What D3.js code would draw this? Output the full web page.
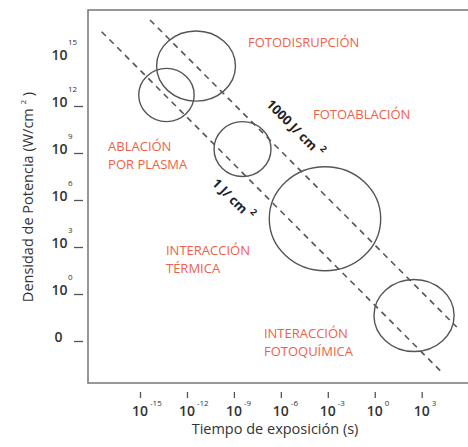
<!DOCTYPE html>
<html>
<head>
<meta charset="utf-8">
<script src="https://cdn.jsdelivr.net/npm/d3@7"></script>
<style>
  body { margin: 0; background: white; }
  svg { display: block; font-family: "Open Sans", sans-serif; }
</style>
</head>
<body>
<svg id="chart"></svg>
<script>
var W = 468, H = 447;

// axis ticks (exponents of ten)
var xTickExps = [-15, -12, -9, -6, -3, 0, 3];
var xTickSups = ["-15", "-12", "-9", "-6", "-3", "0", "3"];
var yTickExps = [15, 12, 9, 6, 3, 0, -3];
var yTickBase = ["10", "10", "10", "10", "10", "10", "0"];
var yTickSups = ["15", "12", "9", "6", "3", "0", ""];
var yTickMarks = [12, 9, 6, 3, 0, -3]; // 10^15 has no dash

// interaction regions: centre (log t, log P) and half-widths in decades
var regionCx = [-11.42, -13.31, -8.45, -3.18, 2.51];
var regionCy = [14.55, 12.7, 9.25, 4.8, -1.37];
var regionRx = [2.52, 1.77, 1.82, 3.56, 2.56];
var regionRy = [2.24, 1.7, 1.75, 3.32, 2.3];

// constant fluence lines: log P = logE - log t
var lineLabels = ["1 J/ cm", "1000 J/ cm"];
var lineLogE = [-0.71, 3.13];
var lineStart = [-17.45, -14.36];
var lineEnd = [4.28, 5.24];
var lineLabelAt = [-7.9, -6.27];

// region names, anchored in (log t, log P)
var labelLines = [["FOTODISRUPCIÓN"], ["FOTOABLACIÓN"], ["ABLACIÓN", "POR PLASMA"],
                  ["INTERACCIÓN", "TÉRMICA"], ["INTERACCIÓN", "FOTOQUÍMICA"]];
var labelX = [-8.10, -3.95, -17.04, -13.34, -7.08];
var labelY = [15.78, 11.17, 9.14, 2.49, -2.83];

var red = "#ef5f4a";
var ink = "#555";

var svg = d3.select("#chart").attr("width", W).attr("height", H);

var x = d3.scaleLinear().domain([-15, 3]).range([140, 421.7]);
var y = d3.scaleLinear().domain([-3, 15]).range([341, 59]);

// frame (open on the right, runs off the page)
svg.append("rect")
  .attr("x", 88).attr("y", 10)
  .attr("width", 400).attr("height", 373)
  .attr("fill", "none")
  .attr("stroke", "#7d7d7d")
  .attr("stroke-width", 1.6);

// y ticks
svg.append("g")
  .attr("transform", "translate(83,0)")
  .call(d3.axisLeft(y).tickValues(yTickMarks).tickSize(9).tickFormat(""))
  .call(function(g) {
    g.select(".domain").remove();
    g.selectAll("line").attr("stroke", "#555").attr("stroke-width", 1.3);
  });

var yLab = svg.append("g").attr("font-weight", 600).attr("fill", "#333");
yTickExps.forEach(function(e, i) {
  yLab.append("text")
    .attr("x", yTickBase[i] === "0" ? 58.5 : 59.5)
    .attr("y", y(e) + 1)
    .attr("text-anchor", "middle")
    .attr("font-size", 14)
    .text(yTickBase[i]);
  if (yTickSups[i]) {
    yLab.append("text")
      .attr("x", 68)
      .attr("y", y(e) - 14)
      .attr("font-size", 8)
      .attr("font-weight", 400)
      .text(yTickSups[i]);
  }
});

// x ticks
svg.append("g")
  .attr("transform", "translate(0,392)")
  .call(d3.axisBottom(x).tickValues(xTickExps).tickSize(6).tickFormat(""))
  .call(function(g) {
    g.select(".domain").remove();
    g.selectAll("line").attr("stroke", "#555").attr("stroke-width", 1.3);
  });

var xLab = svg.append("g").attr("fill", "#333");
xTickExps.forEach(function(e, i) {
  xLab.append("text")
    .attr("x", x(e))
    .attr("y", 416)
    .attr("text-anchor", "middle")
    .attr("font-size", 14)
    .attr("font-weight", 600)
    .text("10");
  xLab.append("text")
    .attr("x", x(e) + 10)
    .attr("y", 406)
    .attr("font-size", 8)
    .text(xTickSups[i]);
});

// axis titles
svg.append("text")
  .attr("x", 275).attr("y", 434)
  .attr("text-anchor", "middle")
  .attr("font-size", 14.5)
  .attr("fill", "#333")
  .text("Tiempo de exposición (s)");

var yt = svg.append("text")
  .attr("transform", "translate(33,197) rotate(-90)")
  .attr("text-anchor", "middle")
  .attr("font-size", 14.5)
  .attr("fill", "#333");
yt.append("tspan").text("Densidad de Potencia (W/cm ");
yt.append("tspan").attr("dy", -7).attr("font-size", 8).text("2");
yt.append("tspan").attr("dy", 7).text(" )");

// dashed fluence lines
lineLogE.forEach(function(E, i) {
  svg.append("line")
    .attr("x1", x(lineStart[i])).attr("y1", y(E - lineStart[i]))
    .attr("x2", x(lineEnd[i])).attr("y2", y(E - lineEnd[i]))
    .attr("stroke", ink)
    .attr("stroke-width", 1.6)
    .attr("stroke-dasharray", "6,5");

  var a = lineLabelAt[i];
  var t = svg.append("text")
    .attr("transform", "translate(" + x(a) + "," + y(E - a) + ") rotate(45)")
    .attr("y", i === 0 ? 30 : -21.5)
    .attr("text-anchor", "middle")
    .attr("font-size", 13)
    .attr("font-weight", 700)
    .attr("fill", "#222");
  t.append("tspan").text(lineLabels[i]);
  t.append("tspan").attr("dx", 4).attr("dy", -7).attr("font-size", 9).text("2");
});

// regions
svg.append("g").selectAll("ellipse")
  .data(regionCx)
.enter().append("ellipse")
  .attr("cx", function(d) { return x(d); })
  .attr("cy", function(d, i) { return y(regionCy[i]); })
  .attr("rx", function(d, i) { return x(d + regionRx[i]) - x(d); })
  .attr("ry", function(d, i) { return y(regionCy[i] - regionRy[i]) - y(regionCy[i]); })
  .attr("fill", "none")
  .attr("stroke", ink)
  .attr("stroke-width", 1.4);

// region names
labelLines.forEach(function(lines, i) {
  var t = svg.append("text")
    .attr("x", x(labelX[i]))
    .attr("y", y(labelY[i]))
    .attr("font-size", 13)
    .attr("fill", red);
  lines.forEach(function(s, k) {
    t.append("tspan")
      .attr("x", x(labelX[i]))
      .attr("dy", k === 0 ? 0 : 18)
      .text(s);
  });
});
</script>
</body>
</html>
